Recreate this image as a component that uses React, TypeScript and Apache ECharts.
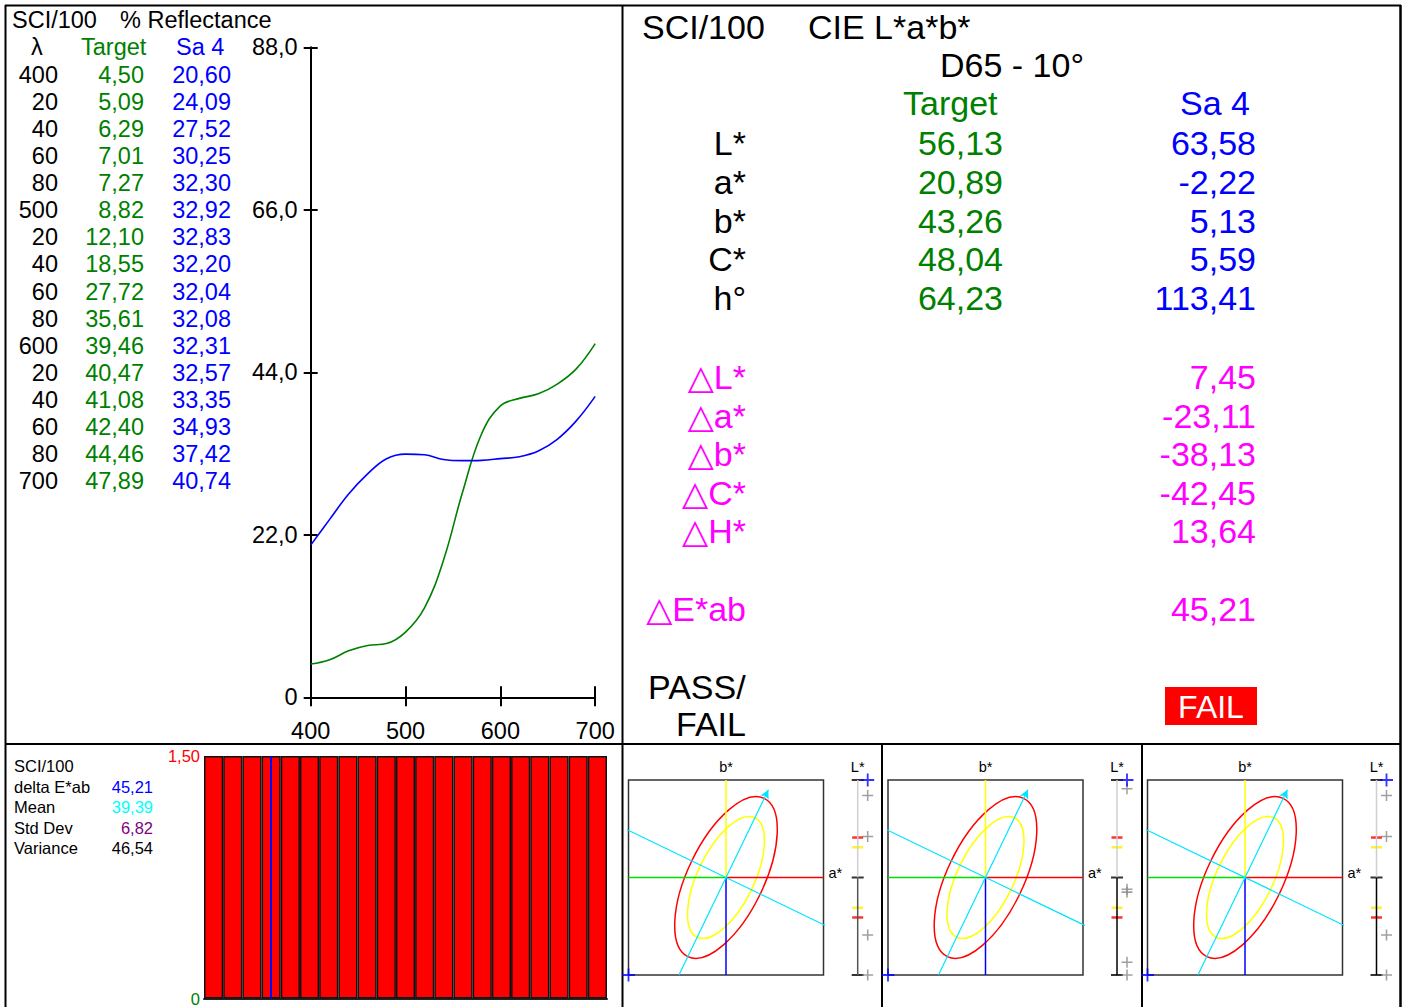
import React, { useEffect, useRef } from "react";
import * as echarts from "echarts";

// Spectral reflectance, 400–700 nm in 20 nm steps
const wavelengths = [400, 420, 440, 460, 480, 500, 520, 540, 560, 580, 600, 620, 640, 660, 680, 700];
const wavelengthLabels = ["400", "20", "40", "60", "80", "500", "20", "40", "60", "80", "600", "20", "40", "60", "80", "700"];
const targetReflectance = [4.5, 5.09, 6.29, 7.01, 7.27, 8.82, 12.1, 18.55, 27.72, 35.61, 39.46, 40.47, 41.08, 42.4, 44.46, 47.89];
const sampleReflectance = [20.6, 24.09, 27.52, 30.25, 32.3, 32.92, 32.83, 32.2, 32.04, 32.08, 32.31, 32.57, 33.35, 34.93, 37.42, 40.74];
const reflectanceTicks = [0, 22, 44, 66, 88];
const wavelengthTicks = [400, 500, 600, 700];

// CIE L*a*b* (D65 / 10°)
const labNames = ["L*", "a*", "b*", "C*", "h°"];
const targetLab = [56.13, 20.89, 43.26, 48.04, 64.23];
const sampleLab = [63.58, -2.22, 5.13, 5.59, 113.41];
const deltaNames = ["△L*", "△a*", "△b*", "△C*", "△H*"];
const deltaValues = [7.45, -23.11, -38.13, -42.45, 13.64];
const deltaEab = 45.21;
const verdict = "FAIL";

// Summary statistics
const statNames = ["delta E*ab", "Mean", "Std Dev", "Variance"];
const statValues = [45.21, 39.39, 6.82, 46.54];

// ΔE history bars (display clipped at the axis maximum)
const historyValues = [1.5, 1.5, 1.5, 1.5, 1.5, 1.5, 1.5, 1.5, 1.5, 1.5, 1.5, 1.5, 1.5, 1.5, 1.5, 1.5, 1.5, 1.5, 1.5, 1.5, 1.5];
const historyMax = 1.5;
const currentIndex = 3;

// Tolerance views (plot units, axes span -1..1)
const outerEllipse = [0.9, 0.39];
const innerEllipse = [0.68, 0.29];
const lightnessOuter = 0.41;
const lightnessInner = 0.31;
const lightnessMarks = [
  [0.84, 0.42, -0.59, -1],
  [0.91, -0.12, -0.15, -0.87, -1],
  [0.84, 0.42, -0.59, -1],
];

const FONT = '"Liberation Sans", Arial, "DejaVu Sans", sans-serif';
const GREEN = "#008000";
const BLUE = "#0000ff";
const MAGENTA = "#ff00ff";
const fmt = (v: number, d = 2) => v.toFixed(d).replace(".", ",");
const clamp = (v: number) => Math.max(-1, Math.min(1, v));
const PLUS = "path://M0,4.3h10v1.4h-10z M4.3,0h1.4v10h-1.4z";

function txt(text: string, x: number, y: number, size: number, color = "#000", align = "left") {
  return {
    type: "text",
    x,
    y,
    silent: true,
    style: { text, fill: color, font: `${size}px ${FONT}`, align, verticalAlign: "middle" },
  };
}

function seg(x1: number, y1: number, x2: number, y2: number, w = 2) {
  return { type: "line", silent: true, shape: { x1, y1, x2, y2 }, style: { stroke: "#000", lineWidth: w } };
}

export default function App() {
  const ref = useRef<HTMLDivElement>(null);

  useEffect(() => {
    if (!ref.current) return;
    const chart = echarts.init(ref.current, undefined, { renderer: "svg" });

    const hue = targetLab[4];
    const hr = (hue * Math.PI) / 180;
    const ch = Math.cos(hr);
    const sh = Math.sin(hr);

    const panelLeft = [628.5, 888, 1147.5];
    const scaleLeft = [857.7, 1117, 1376.5];
    const scaleLower = ["#555", "#000", "#000"];

    const grid: any[] = [
      { left: 310.7, top: 47.3, width: 284.5, height: 650 },
      { left: 204, top: 756, width: 403, height: 244 },
    ];
    const xAxis: any[] = [
      {
        gridIndex: 0, type: "value", min: 400, max: 700, interval: 100,
        axisLine: { lineStyle: { color: "#000", width: 2 } },
        axisTick: { show: true, length: 9, lineStyle: { color: "#000", width: 2 } },
        axisLabel: { color: "#000", fontSize: 23.5, fontFamily: FONT, margin: 22,
          formatter: (v: number) => (wavelengthTicks.includes(v) ? String(v) : "") },
        splitLine: { show: false },
      },
      {
        gridIndex: 0, type: "value", min: 400, max: 700, interval: 100, position: "bottom",
        axisLine: { show: false },
        axisTick: { show: true, inside: true, length: 11, lineStyle: { color: "#000", width: 2 } },
        axisLabel: { show: false },
        splitLine: { show: false },
      },
      {
        gridIndex: 1, type: "category", data: historyValues.map((_, i) => String(i + 1)),
        axisLine: { lineStyle: { color: "#222", width: 2 } },
        axisTick: { show: false }, axisLabel: { show: false },
      },
    ];
    const yAxis: any[] = [
      {
        gridIndex: 0, type: "value", min: 0, max: 88, interval: 22,
        axisLine: { show: true, lineStyle: { color: "#000", width: 2 } },
        axisTick: { show: true, length: 7, lineStyle: { color: "#000", width: 2 } },
        axisLabel: { color: "#000", fontSize: 23.5, fontFamily: FONT, margin: 13,
          formatter: (v: number) => (v === 0 ? "0" : fmt(v, 1)) },
        splitLine: { show: false },
      },
      {
        gridIndex: 0, type: "value", min: 0, max: 88, interval: 22, position: "left",
        axisLine: { show: false },
        axisTick: { show: true, inside: true, length: 7, lineStyle: { color: "#000", width: 2 } },
        axisLabel: { show: false },
        splitLine: { show: false },
      },
      {
        gridIndex: 1, type: "value", min: 0, max: historyMax, interval: historyMax,
        axisLine: { show: false }, axisTick: { show: false }, splitLine: { show: false },
        axisLabel: { fontSize: 16.5, fontFamily: FONT, margin: 4,
          color: (v: any) => (Number(v) === 0 ? GREEN : "#ff0000"),
          formatter: (v: number) => (v === 0 ? "0" : fmt(v)) },
      },
    ];

    const series: any[] = [
      { type: "line", xAxisIndex: 0, yAxisIndex: 0, smooth: 0.4, showSymbol: false, silent: true,
        data: wavelengths.map((w, i) => [w, targetReflectance[i]]), lineStyle: { color: GREEN, width: 1.6 } },
      { type: "line", xAxisIndex: 0, yAxisIndex: 0, smooth: 0.4, showSymbol: false, silent: true,
        data: wavelengths.map((w, i) => [w, sampleReflectance[i]]), lineStyle: { color: BLUE, width: 1.6 } },
      { type: "bar", xAxisIndex: 2, yAxisIndex: 2, barCategoryGap: "0%", silent: true,
        data: historyValues, itemStyle: { color: "#ff0000", borderColor: "#111", borderWidth: 1.5 },
        markLine: { silent: true, symbol: "none", label: { show: false },
          lineStyle: { color: BLUE, width: 2, type: "solid" }, data: [{ xAxis: currentIndex }] } },
    ];

    const graphic: any[] = [];

    panelLeft.forEach((left, p) => {
      const g = grid.length;
      grid.push({ left, top: 780, width: 195, height: 195, show: true, borderColor: "#333", borderWidth: 1.5, backgroundColor: "transparent" });
      grid.push({ left: scaleLeft[p], top: 780, width: 20, height: 195 });
      const hidden = { show: false };
      [g, g + 1].forEach((gi, k) => {
        xAxis.push({ gridIndex: gi, type: "value", min: k === 0 ? -1 : 0, max: 1, axisLine: hidden, axisTick: hidden, axisLabel: hidden, splitLine: hidden });
        yAxis.push({ gridIndex: gi, type: "value", min: -1, max: 1, axisLine: hidden, axisTick: hidden, axisLabel: hidden, splitLine: hidden });
      });
      const xi = xAxis.length - 2;
      const yi = yAxis.length - 2;
      const ax = { xAxisIndex: xi, yAxisIndex: yi, silent: true };
      const lax = { xAxisIndex: xi + 1, yAxisIndex: yi + 1, silent: true };
      const ln = (data: number[][], color: string, width = 1.5, extra: any = {}) => ({
        type: "line", ...ax, showSymbol: false, data, lineStyle: { color, width }, ...extra,
      });
      series.push(ln([[-1, 0], [0, 0]], "#00e000"));
      series.push(ln([[0, 0], [1, 0]], "#ff0000"));
      series.push(ln([[0, 0], [0, 1]], "#ffff00"));
      series.push(ln([[0, -1], [0, 0]], BLUE));
      series.push(ln([[2 * sh, -2 * ch], [-2 * sh, 2 * ch]], "#00e5ff", 1.2, {
        clip: true,
        markLine: {
          silent: true, symbol: ["none", "arrow"], symbolSize: [7, 9], label: { show: false },
          lineStyle: { color: "#00e5ff", width: 1.2, type: "solid" },
          data: [[{ coord: [-ch / sh, -1] }, { coord: [ch, sh] }]],
        },
      }));
      [[outerEllipse, "#ff0000"], [innerEllipse, "#ffff00"]].forEach(([axes, color]: any) => {
        series.push({
          type: "custom", ...ax, clip: false,
          data: [[0, 0, axes[0], axes[1], hue]],
          encode: { x: 0, y: 1 },
          renderItem: (_: any, api: any) => {
            const c = api.coord([api.value(0), api.value(1)]);
            const s = api.size([api.value(2), api.value(3)]);
            return {
              type: "ellipse", x: c[0], y: c[1], rotation: (api.value(4) * Math.PI) / 180,
              shape: { cx: 0, cy: 0, rx: s[0], ry: s[1] },
              style: { fill: "none", stroke: color, lineWidth: 1.5 },
            };
          },
        });
      });
      series.push({ type: "scatter", ...ax, clip: false, z: 5, symbol: PLUS, symbolSize: 13,
        data: [[clamp(deltaValues[1]), clamp(deltaValues[2])]], itemStyle: { color: BLUE } });

      // Lightness scale
      series.push({ type: "line", ...lax, showSymbol: false, data: [[0, 0], [0, 1]], lineStyle: { color: "#cfcfcf", width: 1.5 } });
      series.push({ type: "line", ...lax, showSymbol: false, data: [[0, -1], [0, 0]], lineStyle: { color: scaleLower[p], width: 1.5 } });
      series.push({ type: "scatter", ...lax, clip: false, symbol: "rect", symbolSize: [12, 2],
        data: [[0, 1], [0, 0], [0, -1]], itemStyle: { color: "#000" } });
      series.push({ type: "scatter", ...lax, clip: false, symbol: "rect", symbolSize: [11, 2.5],
        data: [[0, lightnessOuter], [0, -lightnessOuter]], itemStyle: { color: "#ff0000" } });
      series.push({ type: "scatter", ...lax, clip: false, symbol: "rect", symbolSize: [11, 2.5],
        data: [[0, lightnessInner], [0, -lightnessInner]], itemStyle: { color: "#ffee00" } });
      series.push({ type: "scatter", ...lax, clip: false, symbol: PLUS, symbolSize: 11,
        data: lightnessMarks[p].map((v) => [0.5, v]), itemStyle: { color: "#888" } });
      series.push({ type: "scatter", ...lax, clip: false, z: 5, symbol: PLUS, symbolSize: 13,
        data: [[0.5, clamp(deltaValues[0])]], itemStyle: { color: BLUE } });

      graphic.push(txt("b*", left + 97.5, 767, 14.5, "#000", "center"));
      graphic.push(txt("a*", left + 200, 873, 14.5));
      graphic.push(txt("L*", scaleLeft[p], 767, 14.5, "#000", "center"));
    });

    // Frame
    graphic.push(seg(5, 5.5, 1401, 5.5));
    graphic.push(seg(5.5, 5, 5.5, 1007));
    graphic.push(seg(1400.5, 5, 1400.5, 1007, 2.5));
    graphic.push(seg(622.5, 5, 622.5, 1007));
    graphic.push(seg(5, 744, 1401, 744));
    graphic.push(seg(882, 744, 882, 1007));
    graphic.push(seg(1142, 744, 1142, 1007));

    // Reflectance table
    const LS = 23.5;
    graphic.push(txt("SCI/100", 12, 20, LS));
    graphic.push(txt("% Reflectance", 120, 20, LS));
    graphic.push(txt("λ", 31, 47, LS));
    graphic.push(txt("Target", 81, 47, LS, GREEN));
    graphic.push(txt("Sa 4", 176, 47, LS, BLUE));
    wavelengthLabels.forEach((w, i) => {
      const y = 75 + i * 27.07;
      graphic.push(txt(w, 58, y, LS, "#000", "right"));
      graphic.push(txt(fmt(targetReflectance[i]), 144, y, LS, GREEN, "right"));
      graphic.push(txt(fmt(sampleReflectance[i]), 231, y, LS, BLUE, "right"));
    });

    // Colour difference table
    const RS = 34;
    graphic.push(txt("SCI/100", 642, 27, RS));
    graphic.push(txt("CIE L*a*b*", 808, 27, RS));
    graphic.push(txt("D65 - 10°", 1012, 65, RS, "#000", "center"));
    graphic.push(txt("Target", 903, 103, RS, GREEN));
    graphic.push(txt("Sa 4", 1180, 103, RS, BLUE));
    labNames.forEach((n, i) => {
      const y = 143 + i * 38.75;
      graphic.push(txt(n, 746, y, RS, "#000", "right"));
      graphic.push(txt(fmt(targetLab[i]), 1003, y, RS, GREEN, "right"));
      graphic.push(txt(fmt(sampleLab[i]), 1256, y, RS, BLUE, "right"));
    });
    deltaNames.forEach((n, i) => {
      const y = 377 + i * 38.5;
      graphic.push(txt(n, 746, y, RS, MAGENTA, "right"));
      graphic.push(txt(fmt(deltaValues[i]), 1256, y, RS, MAGENTA, "right"));
    });
    graphic.push(txt("△E*ab", 746, 609, RS, MAGENTA, "right"));
    graphic.push(txt(fmt(deltaEab), 1256, 609, RS, MAGENTA, "right"));
    graphic.push(txt("PASS/", 648, 687, RS));
    graphic.push(txt("FAIL", 676, 724, RS));
    graphic.push({ type: "rect", silent: true, shape: { x: 1165, y: 687, width: 92, height: 38 }, style: { fill: "#ff0000" } });
    graphic.push(txt(verdict, 1211, 706.5, 32, "#fff", "center"));

    // Statistics
    const SS = 16.5;
    graphic.push(txt("SCI/100", 14, 766, SS));
    const statColors = [BLUE, "#00ffff", "#800080", "#000"];
    statNames.forEach((n, i) => {
      const y = 786.5 + i * 20.5;
      graphic.push(txt(n, 14, y, SS));
      graphic.push(txt(fmt(statValues[i]), 153, y, SS, statColors[i], "right"));
    });

    chart.setOption({
      animation: false,
      backgroundColor: "#fff",
      textStyle: { fontFamily: FONT },
      grid,
      xAxis,
      yAxis,
      series,
      graphic,
    });

    return () => chart.dispose();
  }, []);

  return (
    <div
      ref={ref}
      style={{ position: "absolute", left: 0, top: 0, width: 1405, height: 1007, background: "#fff" }}
    />
  );
}
